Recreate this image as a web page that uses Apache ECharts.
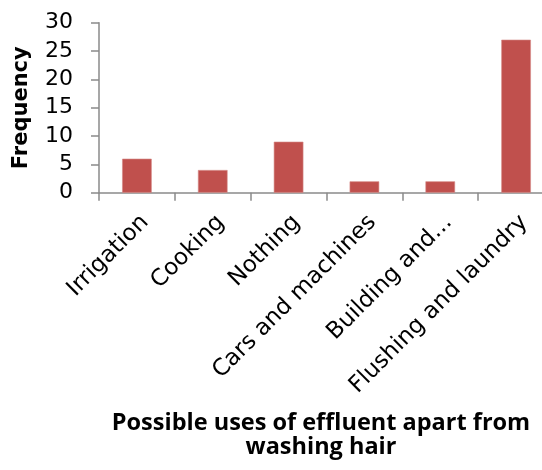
<!DOCTYPE html>
<html>
<head>
<meta charset="utf-8">
<script src="https://cdn.jsdelivr.net/npm/echarts@6/dist/echarts.min.js"></script>
<style>
  html, body { margin: 0; padding: 0; background: #fff; overflow: hidden; }
  #chart { width: 542px; height: 470px; }
</style>
</head>
<body>
<div id="chart"></div>
<script>
// Possible uses of effluent, counted per response
const categories = ['Irrigation', 'Cooking', 'Nothing', 'Cars and machines', 'Building and...', 'Flushing and laundry'];
const frequencies = [6, 4, 9, 2, 2, 27];
const yTicks = [0, 5, 10, 15, 20, 25, 30];

const LABEL_FONT = '"DejaVu Sans", sans-serif';
const TITLE_FONT = '"Open Sans", sans-serif';
const AXIS_GREY = '#8a8a8a';

const chart = echarts.init(document.getElementById('chart'), null, { renderer: 'canvas' });
chart.setOption({
  animation: false,
  backgroundColor: '#ffffff',
  // the plot runs slightly past the right edge of the canvas
  grid: { left: 99, top: 22.7, right: -12, bottom: 277.3, containLabel: false, outerBoundsMode: 'none' },
  xAxis: {
    type: 'category',
    data: categories,
    boundaryGap: true,
    name: 'Possible uses of effluent apart from\nwashing hair',
    nameLocation: 'middle',
    nameGap: 219,
    nameTextStyle: {
      fontFamily: TITLE_FONT, fontWeight: 'bold', fontSize: 23.5, color: '#000',
      lineHeight: 24, padding: [0, 11, 0, 0]
    },
    axisLine: { show: true, lineStyle: { color: AXIS_GREY, width: 1.5 } },
    axisTick: { show: true, alignWithLabel: false, length: 8, lineStyle: { color: AXIS_GREY, width: 1.5 } },
    axisLabel: {
      rotate: 45, interval: 0, margin: 18,
      verticalAlign: 'top',
      fontFamily: LABEL_FONT, fontSize: 23, color: '#000'
    },
    splitLine: { show: false }
  },
  yAxis: {
    type: 'value',
    min: yTicks[0],
    max: yTicks[yTicks.length - 1],
    interval: yTicks[1] - yTicks[0],
    name: 'Frequency',
    nameLocation: 'middle',
    nameGap: 67,
    nameTextStyle: { fontFamily: LABEL_FONT, fontWeight: 'bold', fontSize: 21, color: '#000' },
    axisLine: { show: true, lineStyle: { color: AXIS_GREY, width: 1.5 } },
    axisTick: { show: true, length: 8, lineStyle: { color: AXIS_GREY, width: 1.5 } },
    axisLabel: { fontFamily: LABEL_FONT, fontSize: 22, color: '#000', margin: 26 },
    splitLine: { show: false }
  },
  series: [{
    type: 'bar',
    data: frequencies,
    barWidth: '39%',
    itemStyle: { color: '#c0504d', borderColor: '#d58a87', borderWidth: 0.6 }
  }]
});
</script>
</body>
</html>
